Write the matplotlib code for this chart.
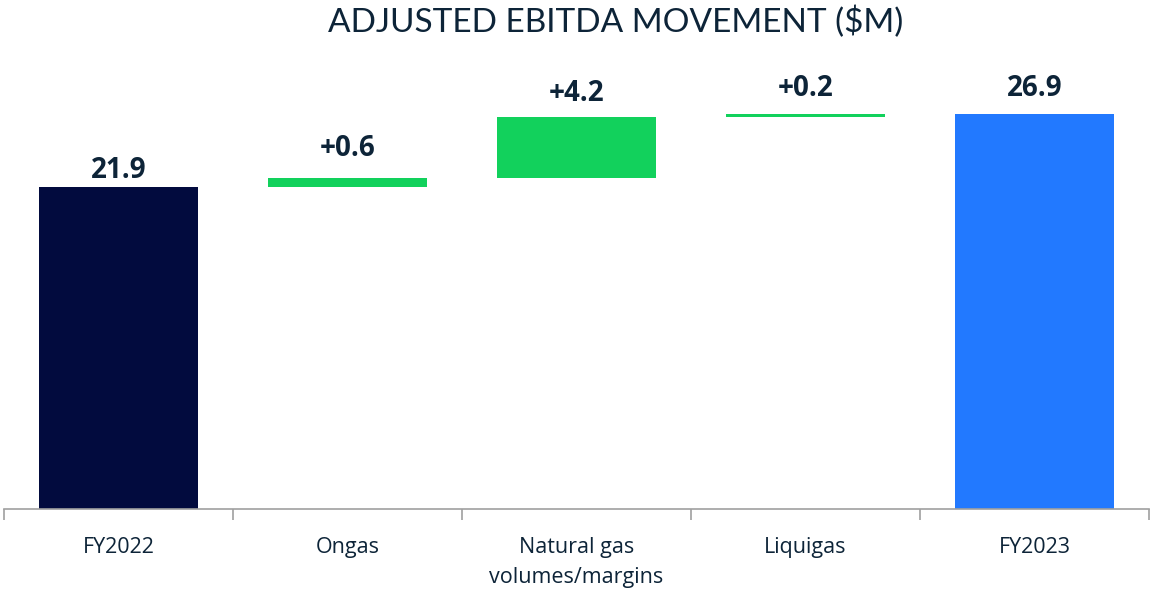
import matplotlib.pyplot as plt
import numpy as np

categories = ["FY2022", "Ongas", "Natural gas\nvolumes/margins", "Liquigas", "FY2023"]
start_value = 21.9
changes = [0.6, 4.2, 0.2]
end_value = 26.9
labels = ["21.9", "+0.6", "+4.2", "+0.2", "26.9"]

# gap (px) between bar top and label baseline, as in the source slide
label_gaps = [9, 22, 16, 18, 18]

navy = "#020b3e"
green = "#12d15c"
blue = "#2279ff"
text_col = "#0d2438"

# waterfall bottoms/heights
bottoms = [0.0]
heights = [start_value]
running = start_value
for c in changes:
    bottoms.append(running)
    heights.append(c)
    running += c
bottoms.append(0.0)
heights.append(end_value)
colors = [navy] + [green] * len(changes) + [blue]

plt.rcParams['font.family'] = ['Open Sans', 'DejaVu Sans']

fig = plt.figure(figsize=(11.5, 5.91), dpi=100)
ax = fig.add_axes([4 / 1150, 1 - 509 / 591, 1145 / 1150, 441 / 591])

x = np.arange(len(categories))
ax.bar(x, heights, bottom=bottoms, width=0.69, color=colors)

for xi, b, h, lab, gap in zip(x, bottoms, heights, labels, label_gaps):
    ax.annotate(lab, (xi, b + h), xytext=(0, gap), textcoords='offset pixels',
                ha='center', va='baseline', fontsize=20, fontweight='bold', color=text_col)

ax.set_xlim(-0.5, len(categories) - 0.5)
ax.set_ylim(0, 30)
ax.set_xticks(x)
ax.set_xticklabels(categories, fontsize=15.5, color=text_col, linespacing=1.6)
ax.set_xticks(np.arange(-0.5, len(categories)), minor=True)
ax.tick_params(axis='x', which='major', length=0, pad=20)
ax.tick_params(axis='x', which='minor', length=8, color='#a0a0a0', width=1.2)
ax.set_yticks([])
for s in ['top', 'right', 'left']:
    ax.spines[s].set_visible(False)
ax.spines['bottom'].set_color('#a0a0a0')
ax.spines['bottom'].set_linewidth(1.2)

fig.text(616 / 1150, 1 - 22 / 591, "ADJUSTED EBITDA MOVEMENT ($M)", ha='center', va='center',
         fontsize=24, color=text_col, family=['Lato', 'DejaVu Sans'])

fig.savefig("out.png", dpi=100)
